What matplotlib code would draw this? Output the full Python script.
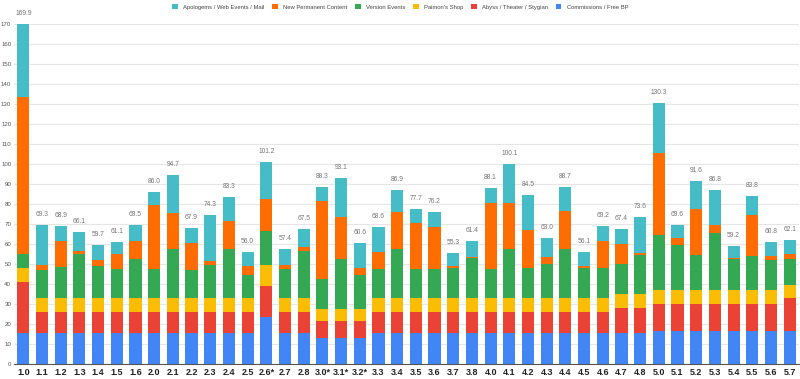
import matplotlib.pyplot as plt
import numpy as np

plt.rcParams['font.family'] = ['Liberation Sans', 'DejaVu Sans']

versions = ['1.0', '1.1', '1.2', '1.3', '1.4', '1.5', '1.6', '2.0', '2.1', '2.2',
            '2.3', '2.4', '2.5', '2.6*', '2.7', '2.8', '3.0*', '3.1*', '3.2*', '3.3',
            '3.4', '3.5', '3.6', '3.7', '3.8', '4.0', '4.1', '4.2', '4.3', '4.4',
            '4.5', '4.6', '4.7', '4.8', '5.0', '5.1', '5.2', '5.3', '5.4', '5.5',
            '5.6', '5.7']

commissions = [15.5, 15.5, 15.5, 15.5, 15.5, 15.5, 15.5, 15.5, 15.5, 15.5,
               15.5, 15.5, 15.5, 23.5, 15.5, 15.5, 13.2, 13.2, 13.2, 15.5,
               15.5, 15.5, 15.5, 15.5, 15.5, 15.5, 15.5, 15.5, 15.5, 15.5,
               15.5, 15.5, 15.5, 15.5, 16.3, 16.3, 16.3, 16.3, 16.3, 16.3,
               16.3, 16.3]
abyss = [25.5, 10.5, 10.5, 10.5, 10.5, 10.5, 10.5, 10.5, 10.5, 10.5,
         10.5, 10.5, 10.5, 15.7, 10.5, 10.5, 8.5, 8.5, 8.5, 10.5,
         10.5, 10.5, 10.5, 10.5, 10.5, 10.5, 10.5, 10.5, 10.5, 10.5,
         10.5, 10.5, 12.3, 12.3, 13.7, 13.7, 13.7, 13.7, 13.7, 13.7,
         13.7, 16.5]
shop = [7, 7, 7, 7, 7, 7, 7, 7, 7, 7,
        7, 7, 7, 10.5, 7, 7, 5.8, 5.8, 5.8, 7,
        7, 7, 7, 7, 7, 7, 7, 7, 7, 7,
        7, 7, 7, 7, 7, 7, 7, 7, 7, 7,
        7, 6.9]
events = [7, 14.2, 15.7, 22, 15.8, 14.3, 19.7, 14.3, 24.5, 13.8,
          16.5, 24.5, 11.5, 16.6, 14.7, 23.7, 15, 24.8, 17, 14.7,
          24.5, 14.7, 14.7, 14.8, 20.2, 14.7, 24.7, 14.8, 16.8, 24.7,
          14.8, 14.8, 15, 19.7, 27.7, 22.7, 17.5, 28.3, 15.3, 17.2,
          14.8, 12.8]
permanent = [78.3, 2.5, 13, 1.7, 3, 7.7, 9, 32, 18.2, 13.7,
             2.2, 13.8, 4.7, 16.4, 1.6, 1.6, 39, 21.4, 3.5, 8.3,
             18.5, 23, 21, 1.4, 0.5, 33, 22.8, 19.4, 3.5, 18.8,
             1, 13.9, 10.2, 0.8, 40.6, 3.3, 22.8, 4, 0.5, 20.1,
             2.4, 2.5]
totals = [169.9, 69.3, 68.9, 66.1, 59.7, 61.1, 69.5, 86.0, 94.7, 67.9,
          74.3, 83.3, 56.0, 101.2, 57.4, 67.5, 88.3, 93.1, 60.6, 68.6,
          86.9, 77.7, 76.2, 55.3, 61.4, 88.1, 100.1, 84.5, 63.0, 88.7,
          56.1, 69.2, 67.4, 73.6, 130.3, 69.6, 91.6, 86.8, 59.2, 83.8,
          60.8, 62.1]

# apologems fill the rest up to the labelled total
lower = np.array(commissions) + np.array(abyss) + np.array(shop) + np.array(events) + np.array(permanent)
apologems = list(np.round(np.array(totals) - lower, 1))

series = [
    ("Commissions / Free BP", commissions, "#4285F4"),
    ("Abyss / Theater / Stygian", abyss, "#EA4335"),
    ("Paimon's Shop", shop, "#FBBC04"),
    ("Version Events", events, "#34A853"),
    ("New Permanent Content", permanent, "#FF6D01"),
    ("Apologems / Web Events / Mail", apologems, "#46BDC6"),
]

fig = plt.figure(figsize=(8, 3.79), dpi=100)
ax = fig.add_axes([14 / 800, 15 / 379, 785 / 800, 340 / 379])

x = np.arange(len(versions))
bottom = np.zeros(len(versions))
handles = {}
for name, vals, col in series:
    b = ax.bar(x, vals, 0.65, bottom=bottom, color=col, label=name, zorder=3)
    handles[name] = b
    bottom += np.array(vals)

for i, t in enumerate(totals):
    ax.text(i, t + 3.5, f"{t:.1f}", ha="center", va="bottom", fontsize=4.8,
            color="#757575", clip_on=False)

ax.set_xlim(-0.5, len(versions) - 0.5)
ax.set_ylim(0, 170)
ax.set_yticks(np.arange(0, 171, 10))
ax.yaxis.grid(True, color="#e6e6e6", linewidth=0.8, zorder=0)
ax.set_xticks(x)
ax.set_xticklabels(versions, fontsize=6.5, fontweight="bold", color="#222222")
ax.tick_params(axis="y", labelsize=4.4, labelcolor="#555555", length=0, pad=2)
ax.tick_params(axis="x", length=0, pad=3)
for s in ["top", "right", "left"]:
    ax.spines[s].set_visible(False)
ax.spines["bottom"].set_color("#555555")
ax.spines["bottom"].set_zorder(4)

order = ["Apologems / Web Events / Mail", "New Permanent Content", "Version Events",
         "Paimon's Shop", "Abyss / Theater / Stygian", "Commissions / Free BP"]
fig.legend([handles[n] for n in order], order, loc="center", bbox_to_anchor=(0.5, 1 - 7 / 379),
           ncol=6, frameon=False, fontsize=4.2, handlelength=1.0, handleheight=1.0,
           columnspacing=1.3, handletextpad=0.9, labelcolor="#444444")

fig.savefig("out.png", dpi=100)
